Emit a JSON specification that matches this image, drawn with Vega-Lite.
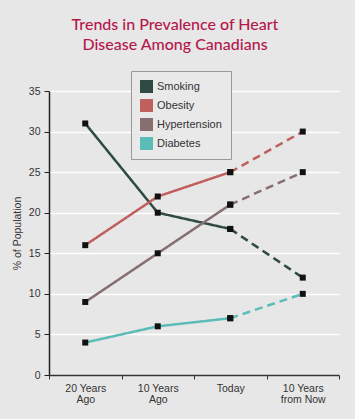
{
  "$schema": "https://vega.github.io/schema/vega-lite/v6.json",
  "width": 290,
  "height": 284,
  "autosize": {"type": "none"},
  "padding": {"left": 49, "top": 91, "right": 16, "bottom": 44},
  "background": "#e7e7e7",
  "title": {
    "text": ["Trends in Prevalence of Heart", "Disease Among Canadians"],
    "color": "#b5174b",
    "font": "Lato",
    "fontSize": 16,
    "fontWeight": 500,
    "lineHeight": 20,
    "anchor": "middle",
    "dx": -19,
    "offset": 18
  },
  "config": {
    "view": {"stroke": null},
    "axis": {"labelFont": "Liberation Sans", "titleFont": "Liberation Sans", "labelColor": "#333", "titleColor": "#333"}
  },
  "data": {
    "values": [
      {"series": "Smoking", "period": "20 Years|Ago", "value": 31, "seg": "actual"},
      {"series": "Smoking", "period": "10 Years|Ago", "value": 20, "seg": "actual"},
      {"series": "Smoking", "period": "Today", "value": 18, "seg": "actual"},
      {"series": "Smoking", "period": "Today", "value": 18, "seg": "projected"},
      {"series": "Smoking", "period": "10 Years|from Now", "value": 12, "seg": "projected"},
      {"series": "Obesity", "period": "20 Years|Ago", "value": 16, "seg": "actual"},
      {"series": "Obesity", "period": "10 Years|Ago", "value": 22, "seg": "actual"},
      {"series": "Obesity", "period": "Today", "value": 25, "seg": "actual"},
      {"series": "Obesity", "period": "Today", "value": 25, "seg": "projected"},
      {"series": "Obesity", "period": "10 Years|from Now", "value": 30, "seg": "projected"},
      {"series": "Hypertension", "period": "20 Years|Ago", "value": 9, "seg": "actual"},
      {"series": "Hypertension", "period": "10 Years|Ago", "value": 15, "seg": "actual"},
      {"series": "Hypertension", "period": "Today", "value": 21, "seg": "actual"},
      {"series": "Hypertension", "period": "Today", "value": 21, "seg": "projected"},
      {"series": "Hypertension", "period": "10 Years|from Now", "value": 25, "seg": "projected"},
      {"series": "Diabetes", "period": "20 Years|Ago", "value": 4, "seg": "actual"},
      {"series": "Diabetes", "period": "10 Years|Ago", "value": 6, "seg": "actual"},
      {"series": "Diabetes", "period": "Today", "value": 7, "seg": "actual"},
      {"series": "Diabetes", "period": "Today", "value": 7, "seg": "projected"},
      {"series": "Diabetes", "period": "10 Years|from Now", "value": 10, "seg": "projected"}
    ]
  },
  "encoding": {
    "x": {
      "field": "period",
      "type": "ordinal",
      "sort": ["20 Years|Ago", "10 Years|Ago", "Today", "10 Years|from Now"],
      "scale": {"type": "band", "paddingInner": 0, "paddingOuter": 0},
      "axis": {
        "title": null,
        "labelAngle": 0,
        "tickBand": "extent",
        "labelExpr": "isValid(datum.value) ? split(datum.value, '|') : ''",
        "labelFontSize": 10.5,
        "labelLineHeight": 11,
        "labelPadding": 4,
        "domainColor": "#333",
        "domainWidth": 1.5,
        "tickColor": "#333",
        "tickSize": 4,
        "tickWidth": 1,
        "grid": false
      }
    },
    "y": {
      "field": "value",
      "type": "quantitative",
      "scale": {"domain": [0, 35], "nice": false},
      "axis": {
        "title": "% of Population",
        "titleFontSize": 10.5,
        "titleFontWeight": "normal",
        "titlePadding": 6,
        "values": [0, 5, 10, 15, 20, 25, 30, 35],
        "labelFontSize": 10.5,
        "labelPadding": 4,
        "domainColor": "#222",
        "domainWidth": 1.5,
        "tickColor": "#222",
        "tickSize": 5,
        "gridColor": "#ffffff",
        "gridWidth": 1.5,
        "gridOpacity": 1
      }
    }
  },
  "layer": [
    {
      "mark": {"type": "line", "strokeWidth": 2.5},
      "encoding": {
        "color": {
          "field": "series",
          "type": "nominal",
          "scale": {
            "domain": ["Smoking", "Obesity", "Hypertension", "Diabetes"],
            "range": ["#2f4a44", "#c0605e", "#876f70", "#5bbcb8"]
          },
          "legend": {
            "title": null,
            "orient": "none",
            "legendX": 82,
            "legendY": -20,
            "direction": "vertical",
            "symbolType": "square",
            "symbolSize": 169,
            "labelFont": "Liberation Sans",
            "labelFontSize": 11,
            "labelColor": "#333",
            "rowPadding": 6,
            "padding": 9,
            "strokeColor": "#999",
            "fillColor": "#e9e9e9",
            "labelOffset": 4,
            "encode": {
              "symbols": {
                "update": {
                  "fill": {"scale": "color", "field": "value"},
                  "fillOpacity": {"value": 1},
                  "strokeWidth": {"value": 0}
                }
              }
            }
          }
        },
        "strokeDash": {
          "field": "seg",
          "type": "nominal",
          "scale": {"domain": ["actual", "projected"], "range": [[1, 0], [8, 5]]},
          "legend": null
        },
        "detail": {"field": "series"}
      }
    },
    {
      "mark": {"type": "point", "shape": "square", "filled": true, "size": 36, "color": "#111", "opacity": 1}
    }
  ]
}
